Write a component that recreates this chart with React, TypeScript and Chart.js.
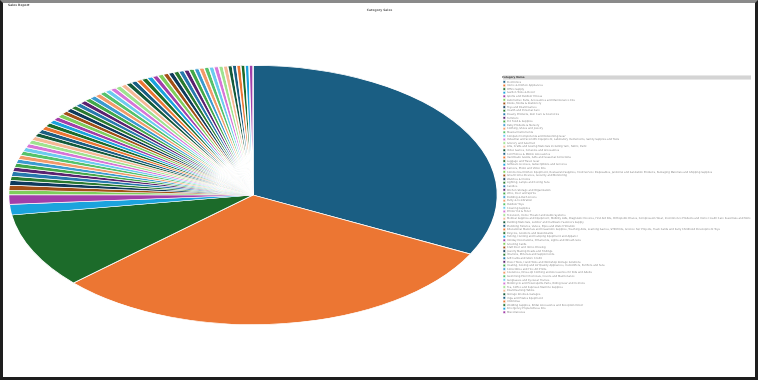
import React, { useEffect, useRef } from "react";
import { Chart, registerables } from "chart.js";

Chart.register(...registerables);

const PAGE_TITLE = "Sales Report";
const CHART_TITLE = "Category Sales";
const LEGEND_TITLE = "Category Name";

const categories = [
  "Electronics",
  "Home & Kitchen Appliances",
  "Office Supply",
  "Garden Tools & Decor",
  "Sports and Outdoor Fitness",
  "Automotive Parts, Accessories and Maintenance Kits",
  "Books, Media & Stationery",
  "Toys and Board Games",
  "Health and Personal Care",
  "Beauty Products, Skin Care & Cosmetics",
  "Furniture",
  "Pet Food & Supplies",
  "Baby Products & Nursery",
  "Clothing, Shoes and Jewelry",
  "Musical Instruments",
  "Computer Components and Networking Gear",
  "Industrial and Scientific Equipment, Laboratory Instruments, Safety Supplies and Tools",
  "Grocery and Gourmet",
  "Arts, Crafts and Sewing Materials including Yarn, Fabric, Paint",
  "Video Games, Consoles and Accessories",
  "Cell Phones & Mobile Accessories",
  "Handmade Goods, Gifts and Seasonal Collections",
  "Luggage and Travel Gear",
  "Software Licenses, Subscriptions and Services",
  "Camera, Photo and Video Kits",
  "Commercial Kitchen Equipment, Restaurant Supplies, Food Service Disposables, Janitorial and Sanitation Products, Packaging Materials and Shipping Supplies",
  "Smart Home Devices, Security and Monitoring",
  "Watches & Clocks",
  "Lighting, Lamps and Ceiling Fans",
  "Candles",
  "Kitchen Storage and Organization",
  "Wine, Beer and Spirits",
  "Bedding & Bath Linens",
  "Party & Celebration",
  "Outdoor Toys",
  "Cleaning Supplies",
  "Printer Ink & Toner",
  "Television, Home Theater and Audio Systems",
  "Medical Supplies and Equipment, Mobility Aids, Diagnostic Devices, First Aid Kits, Orthopedic Braces, Compression Wear, Incontinence Products and Home Health Care Essentials and More",
  "Building Materials, Lumber and Hardware Fasteners Supply",
  "Plumbing Fixtures, Valves, Pipes and Water Filtration",
  "Educational Materials and Classroom Supplies, Teaching Aids, Learning Games, STEM Kits, Science Fair Projects, Flash Cards and Early Childhood Development Toys",
  "Bicycles, Scooters and Skateboards",
  "Fishing, Hunting and Camping Equipment and Apparel",
  "Holiday Decorations, Ornaments, Lights and Wreath Sets",
  "Greeting Cards",
  "Craft Beer and Home Brewing",
  "Jewelry Making Beads and Findings",
  "Vitamins, Minerals and Supplements",
  "Gift Cards and Store Credit",
  "Power Tools, Hand Tools and Workshop Storage Solutions",
  "Heating, Cooling and Air Quality Appliances, Humidifiers, Purifiers and Fans",
  "Collectibles and Fine Art Prints",
  "Costumes, Dress-Up Clothing and Accessories for Kids and Adults",
  "Swimming Pool Chemicals, Covers and Maintenance",
  "Sunglasses and Eyewear Frames",
  "Motorcycle and Powersports Parts, Riding Gear and Helmets",
  "Tea, Coffee and Espresso Machine Supplies",
  "Board Gaming Tables",
  "Storage Sheds & Garages",
  "Yoga and Pilates Equipment",
  "Umbrellas",
  "Wedding Supplies, Bridal Accessories and Reception Décor",
  "Emergency Preparedness Kits",
  "Miscellaneous",
];

const values = [
  3220, 3030, 930,
  130, 120, 55, 60, 58, 52, 58, 52, 50, 50,
  52, 50, 49, 50, 48, 49, 47, 48, 46, 47,
  46, 45, 46, 44, 45, 43, 44, 43, 42, 43,
  42, 41, 42, 40, 41, 39, 40, 39, 38, 39,
  38, 37, 37, 36, 36, 35, 35, 34, 34, 33,
  33, 32, 32, 31, 30, 30, 29, 28, 28, 27,
  26, 25,
];

const palette = [
  "#1a5e83", "#ec7633", "#1c6b2a", "#1ba3dd", "#a23ea9",
  "#7ece5c", "#a24f16", "#0f3a5b", "#2a7a30", "#2779ad",
  "#5b2270", "#43a84a", "#3b9bd0", "#f29a6a", "#55c26b",
  "#6ccbef", "#d775d8", "#9ee38f", "#f5b895", "#145a3a",
];

const X_STRETCH = 1.885;

const ellipsePlugin = {
  id: "ellipseStretch",
  beforeDatasetsDraw(chart: any) {
    const ctx = chart.ctx;
    ctx.save();
    const arc = chart.getDatasetMeta(0).data[0];
    if (arc) {
      const x = arc.x;
      const y = arc.y;
      ctx.translate(x, y);
      ctx.scale(X_STRETCH, 1);
      ctx.translate(-x, -y);
    }
  },
  afterDatasetsDraw(chart: any) {
    chart.ctx.restore();
  },
};

const legendHeaderPlugin = {
  id: "legendHeader",
  beforeDraw(chart: any) {
    const lg: any = chart.legend;
    if (!lg || !lg.columnSizes || !lg.columnSizes.length) return;
    const ctx = chart.ctx;
    const titleH = lg._computeTitleHeight();
    const colH = lg.columnSizes.reduce((a: number, s: any) => Math.max(a, s.height), 0);
    const pad = lg.options.labels.padding;
    const y0 = (lg.top + lg.bottom - colH - pad - titleH) / 2;
    ctx.save();
    ctx.fillStyle = "#d4d4d4";
    ctx.fillRect(lg.left + 1, y0, 248, titleH);
    ctx.restore();
  },
  afterDraw(chart: any) {
    const ctx = chart.ctx;
    ctx.save();
    ctx.fillStyle = "#555";
    ctx.font = "bold 3px 'DejaVu Sans', sans-serif";
    ctx.textBaseline = "middle";
    ctx.textAlign = "left";
    ctx.fillText(PAGE_TITLE, 5, 2.5);
    ctx.restore();
  },
};

export default function App() {
  const ref = useRef<HTMLCanvasElement | null>(null);

  useEffect(() => {
    if (!ref.current) return;
    const colors = categories.map((_, i) => palette[i % palette.length]);
    const chart = new Chart(ref.current, {
      type: "pie",
      data: {
        labels: categories,
        datasets: [
          {
            data: values,
            backgroundColor: colors,
            borderColor: "#ffffff",
            borderWidth: 0.7,
          },
        ],
      },
      options: {
        animation: false,
        responsive: true,
        maintainAspectRatio: false,
        devicePixelRatio: 1,
        layout: { padding: { left: 1, right: 0, top: 0, bottom: 52 } },
        plugins: {
          title: {
            display: true,
            text: CHART_TITLE,
            color: "#666",
            font: { size: 3, family: "'DejaVu Sans', sans-serif" },
            padding: { top: 5, bottom: 53.4 },
          },
          legend: {
            display: true,
            position: "right",
            align: "center",
            fullSize: false,
            maxWidth: 253,
            title: {
              display: true,
              text: LEGEND_TITLE,
              color: "#444",
              position: "start",
              font: { size: 2.6, weight: "bold", family: "'DejaVu Sans', sans-serif" },
              padding: { top: 0.5, bottom: 0.5 },
            },
            labels: {
              boxWidth: 2.6,
              boxHeight: 2.6,
              padding: 1,
              color: "#8c8c8c",
              font: { size: 2.6, family: "'DejaVu Sans', sans-serif" },
            },
          },
          tooltip: { enabled: false },
        },
      } as any,
      plugins: [ellipsePlugin, legendHeaderPlugin],
    });
    return () => chart.destroy();
  }, []);

  return (
    <div
      style={{
        position: "fixed",
        left: 0,
        top: 0,
        width: 758,
        height: 380,
        boxSizing: "border-box",
        borderTop: "3px solid #8a8a8a",
        borderLeft: "3px solid #1e1e1e",
        borderRight: "3px solid #1e1e1e",
        borderBottom: "3px solid #1e1e1e",
        background: "#fff",
      }}
    >
      <div style={{ position: "relative", width: 752, height: 374 }}>
        <canvas ref={ref} />
      </div>
    </div>
  );
}
